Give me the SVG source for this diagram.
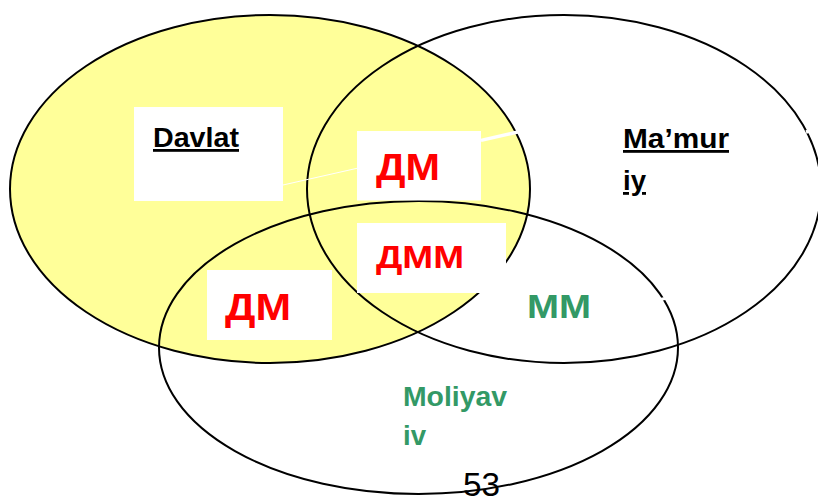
<svg xmlns="http://www.w3.org/2000/svg" width="818" height="499" viewBox="0 0 818 499">
  <style>
    .set { stroke: #000; stroke-width: 2; }
    .box { fill: #fff; }
    .lbl { font-family: "Liberation Sans", Arial, sans-serif; font-weight: bold; font-size: 28px; }
    .blk { fill: #000; text-decoration: underline; }
    .red { fill: #ff0000; }
    .grn { fill: #339966; }
    .gap { stroke: #fff; fill: none; }
  </style>
  <rect x="0" y="0" width="818" height="499" fill="#fff"/>
  <g id="set-davlat">
    <ellipse class="set" cx="270" cy="189" rx="260" ry="174" fill="#ffff99"/>
  </g>
  <g id="set-mamuriy">
    <ellipse class="set" cx="564" cy="189" rx="257" ry="174" fill="none"/>
  </g>
  <g id="set-moliyaviy">
    <ellipse class="set" cx="418.5" cy="347.5" rx="259.5" ry="146.5" fill="none"/>
  </g>
  <g id="white-lines">
    <line class="gap" x1="283" y1="185" x2="357" y2="168.3" stroke-width="1"/>
    <line class="gap" x1="481" y1="140.4" x2="521" y2="131.2" stroke-width="3.5"/>
    <line class="gap" x1="658" y1="300" x2="672" y2="297" stroke-width="3"/>
    <line class="gap" x1="806" y1="132" x2="818" y2="129" stroke-width="3.5"/>
  </g>
  <g id="label-davlat">
    <rect class="box" x="134" y="107" width="149" height="94"/>
    <text class="lbl blk" x="153" y="147" textLength="86" lengthAdjust="spacingAndGlyphs">Davlat</text>
  </g>
  <g id="region-dm-top">
    <rect class="box" x="357" y="131" width="124" height="69.5"/>
    <text class="lbl red" x="376" y="180" textLength="64" lengthAdjust="spacingAndGlyphs" style="font-size:36px">ДМ</text>
  </g>
  <g id="region-dmm">
    <rect class="box" x="357" y="223" width="149" height="70"/>
    <text class="lbl red" x="376" y="268" textLength="88" lengthAdjust="spacingAndGlyphs" style="font-size:32px">ДММ</text>
  </g>
  <g id="region-dm-left">
    <rect class="box" x="207" y="270" width="125" height="70"/>
    <text class="lbl red" x="225" y="320" textLength="66" lengthAdjust="spacingAndGlyphs" style="font-size:36px">ДМ</text>
  </g>
  <g id="region-mm">
    <text class="lbl grn" x="527" y="318" textLength="64" lengthAdjust="spacingAndGlyphs" style="font-size:33px">ММ</text>
  </g>
  <g id="label-mamuriy">
    <text class="lbl blk" x="623" y="148" textLength="106" lengthAdjust="spacingAndGlyphs">Ma’mur</text>
    <text class="lbl blk" x="623" y="190" textLength="23" lengthAdjust="spacingAndGlyphs">iy</text>
  </g>
  <g id="label-moliyaviy">
    <text class="lbl grn" x="403" y="406" textLength="104" lengthAdjust="spacingAndGlyphs">Moliyav</text>
    <text class="lbl grn" x="403" y="445" textLength="23" lengthAdjust="spacingAndGlyphs">iv</text>
  </g>
  <g id="page-number">
    <text x="463" y="496" font-family="Liberation Sans, Arial, sans-serif" font-size="33" fill="#000" textLength="37" lengthAdjust="spacingAndGlyphs">53</text>
  </g>
</svg>
